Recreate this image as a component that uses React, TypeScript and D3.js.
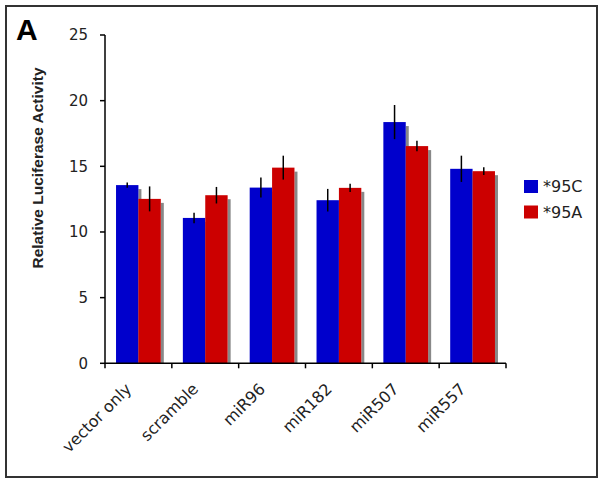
import React from "react";
import * as d3 from "d3";

const categories = ["vector only", "scramble", "miR96", "miR182", "miR507", "miR557"];
const seriesNames = ["*95C", "*95A"];
const seriesColors = ["#0000CC", "#CC0000"];
const values95C = [13.57, 11.07, 13.38, 12.42, 18.37, 14.81];
const values95A = [12.52, 12.8, 14.9, 13.36, 16.54, 14.63];
const errors95C = [0.2, 0.4, 0.76, 0.86, 1.3, 1.0];
const errors95A = [0.95, 0.63, 0.91, 0.32, 0.4, 0.3];
const yTicks = [0, 5, 10, 15, 20, 25];

const W = 605;
const H = 485;
const plotLeft = 105;
const plotRight = 506;
const plotTop = 35;
const plotBottom = 363.3;

export default function App() {
  const y = d3.scaleLinear().domain([0, 25]).range([plotBottom, plotTop]);
  const x0 = d3.scaleBand<string>().domain(categories).range([plotLeft, plotRight]).padding(0);
  const bw = x0.bandwidth();
  const x1 = d3.scaleBand<string>().domain(seriesNames).range([bw * 0.165, bw * 0.835]).padding(0);
  const series = [
    { name: seriesNames[0], color: seriesColors[0], vals: values95C, errs: errors95C },
    { name: seriesNames[1], color: seriesColors[1], vals: values95A, errs: errors95A },
  ];
  const tickFont = "DejaVu Sans, Verdana, sans-serif";
  const boundaries = [...categories.map((c) => x0(c)!), plotRight];

  return (
    <svg width={W} height={H} style={{ position: "absolute", left: 0, top: 0, background: "#fff" }}>
      <rect x={6} y={6} width={591} height={471} fill="#fff" stroke="#333" strokeWidth={2} />
      <text x={16} y={40} fontFamily="Liberation Sans, Arial, sans-serif" fontWeight="bold" fontSize={30} fill="#000">A</text>
      {/* bars */}
      {categories.map((c, i) => (
        <g key={c} transform={`translate(${x0(c)},0)`}>
          {series.map((s) => {
            const bx = x1(s.name)!;
            const bwid = x1.bandwidth();
            const top = y(s.vals[i]);
            return (
              <g key={s.name}>
                <rect x={bx + bwid} y={top + 4} width={3} height={plotBottom - top - 4} fill="#888" />
                <rect x={bx} y={top} width={bwid} height={plotBottom - top} fill={s.color} />
              </g>
            );
          })}
          {series.map((s) => {
            const cx = x1(s.name)! + x1.bandwidth() / 2;
            return (
              <line key={s.name + "e"} x1={cx} x2={cx} y1={y(s.vals[i] + s.errs[i])} y2={y(s.vals[i] - s.errs[i])} stroke="#000" strokeWidth={1.5} />
            );
          })}
        </g>
      ))}
      {/* y axis */}
      <line x1={plotLeft} x2={plotLeft} y1={plotTop} y2={plotBottom} stroke="#000" strokeWidth={1.5} />
      {yTicks.map((t) => (
        <g key={t}>
          <line x1={plotLeft - 5} x2={plotLeft} y1={y(t)} y2={y(t)} stroke="#000" strokeWidth={1.5} />
          <text x={88} y={y(t)} dy="0.36em" textAnchor="end" fontFamily={tickFont} fontSize={15} fill="#222">{t}</text>
        </g>
      ))}
      {/* x axis */}
      <line x1={plotLeft} x2={plotRight} y1={plotBottom} y2={plotBottom} stroke="#000" strokeWidth={1.5} />
      {boundaries.map((b, i) => (
        <line key={i} x1={b} x2={b} y1={plotBottom} y2={plotBottom + 5} stroke="#000" strokeWidth={1.5} />
      ))}
      {categories.map((c) => {
        const cx = x0(c)! + bw / 2;
        return (
          <text key={c} transform={`translate(${cx - 6},${390}) rotate(-45)`} textAnchor="end" fontFamily={tickFont} fontSize={16} fill="#222">{c}</text>
        );
      })}
      {/* y title */}
      <text transform={`translate(43,168) rotate(-90)`} textAnchor="middle" fontFamily="Liberation Sans, Arial, sans-serif" fontWeight="bold" fontSize={15.5} fill="#222">Relative Luciferase Activity</text>
      {/* legend */}
      {series.map((s, i) => (
        <g key={s.name} transform={`translate(524,${180 + i * 25.5})`}>
          <rect x={0} y={0} width={14} height={13} fill={s.color} />
          <text x={19} y={12} fontFamily={tickFont} fontSize={16} fill="#222">{s.name}</text>
        </g>
      ))}
    </svg>
  );
}
